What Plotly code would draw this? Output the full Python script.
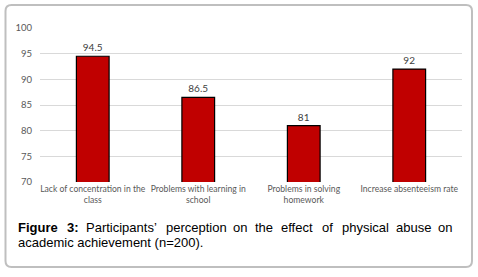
import plotly.graph_objects as go

categories = ["Lack of concentration in the<br>class", "Problems with learning in<br>school",
              "Problems in solving<br>homework", "Increase absenteeism rate"]
values = [94.5, 86.5, 81, 92]
value_labels = ["94.5", "86.5", "81", "92"]
y_ticks = [70, 75, 80, 85, 90, 95, 100]

caption_line1 = ["<b>Figure</b>", "<b>3:</b>", "Participants’", "perception", "on", "the",
                 "effect", "of", "physical", "abuse", "on"]
caption_line1_x = [17, 66, 85, 165, 232, 254, 280, 321, 341, 395, 437]
caption_line2 = "academic achievement (n=200)."

W, H = 478, 277
L, R, T, B = 40, 16, 28, 95
pw, ph = W - L - R, H - T - B

def px(x):
    return (x - L) / pw

def py(y):
    return (H - B - y) / ph

fig = go.Figure()
fig.add_trace(go.Bar(
    x=categories, y=values, text=value_labels, textposition="outside",
    textfont=dict(size=10, color="#404040", family="Lato"),
    marker=dict(color="#C00000", line=dict(color="#000000", width=1.2)),
    cliponaxis=False, width=0.31, hoverinfo="skip",
))

fig.update_layout(
    width=W, height=H, margin=dict(l=L, r=R, t=T, b=B, autoexpand=False),
    paper_bgcolor="white", plot_bgcolor="white", showlegend=False,
    xaxis=dict(showline=False, showgrid=False, ticks="", tickangle=0, automargin=False,
               tickfont=dict(size=8.6, color="#595959", family="Lato")),
    yaxis=dict(range=[70, 100], tickvals=y_ticks, showgrid=True, gridcolor="#d9d9d9",
               gridwidth=1, zeroline=False, showline=False, ticks="", automargin=False,
               tickfont=dict(size=9.5, color="#595959", family="Lato"), ticklabelstandoff=7),
)

# rounded frame
x0, y0, x1, y1, r = px(5.5), py(5), px(472), py(267), 6
rx, ry = r / pw, r / ph
path = (f"M {x0+rx},{y0} L {x1-rx},{y0} Q {x1},{y0} {x1},{y0-ry} "
        f"L {x1},{y1+ry} Q {x1},{y1} {x1-rx},{y1} L {x0+rx},{y1} Q {x0},{y1} {x0},{y1+ry} "
        f"L {x0},{y0-ry} Q {x0},{y0} {x0+rx},{y0} Z")
fig.add_shape(type="path", path=path, xref="paper", yref="paper",
              line=dict(color="#bfbfbf", width=2), layer="below")

cap_font = dict(family="Liberation Sans, Arial", size=13, color="#000000")
for word, xw in zip(caption_line1, caption_line1_x):
    fig.add_annotation(text=word, x=px(xw), y=py(227), xref="paper", yref="paper",
                       xanchor="left", yanchor="middle", showarrow=False, font=cap_font,
                       borderpad=0)
fig.add_annotation(text=caption_line2, x=px(17), y=py(242), xref="paper", yref="paper",
                   xanchor="left", yanchor="middle", showarrow=False, font=cap_font, borderpad=0)

fig.write_html("out.html", config={"displayModeBar": False},
               post_script="document.body.style.margin='0';")
